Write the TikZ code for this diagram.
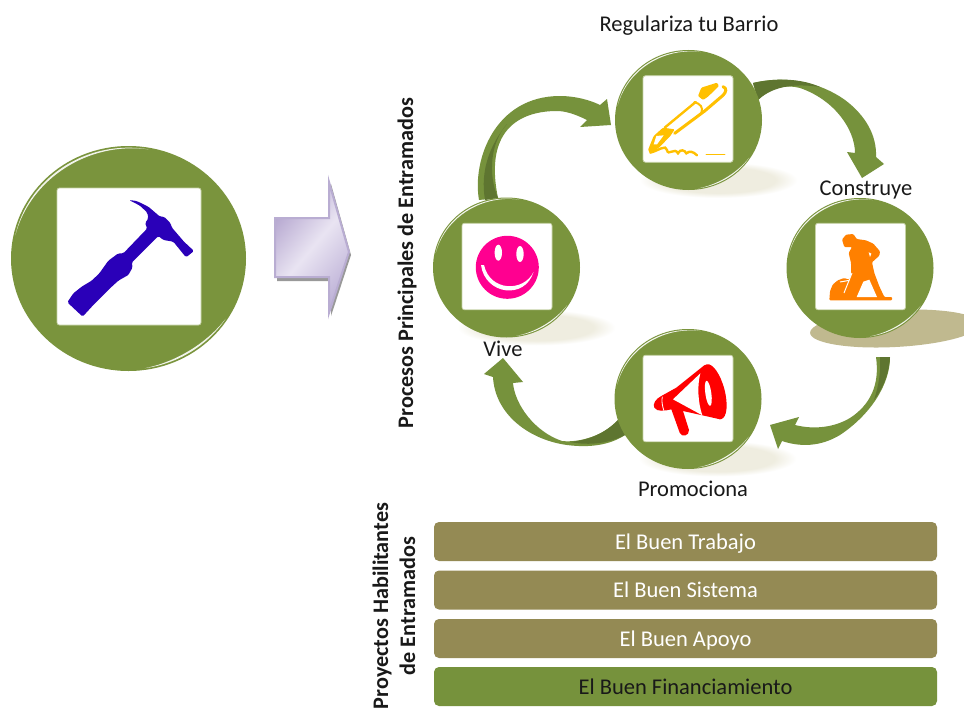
\documentclass[tikz,border=0pt]{standalone}
\usepackage{fontspec}
\setmainfont{Carlito}
\usetikzlibrary{shapes.geometric}
\definecolor{disccol}{HTML}{7A943D}
\definecolor{arrowcol}{HTML}{76923C}
\definecolor{twistcol}{HTML}{5E7530}
\definecolor{barcol}{HTML}{948A54}
\definecolor{cardline}{HTML}{C6D2A6}
\definecolor{halo}{HTML}{EFEDE0}
\definecolor{solidshadow}{HTML}{C0B98F}
\definecolor{hammercol}{HTML}{2A00B8}
\definecolor{pencol}{HTML}{FFC000}
\definecolor{workercol}{HTML}{FF8000}
\definecolor{smilecol}{HTML}{FF0090}
\definecolor{blockline}{HTML}{B9ADD2}
\definecolor{blockdark}{HTML}{B3A4CE}
\definecolor{blocklight}{HTML}{E9E4F2}
\definecolor{blockmid}{HTML}{BFB3D8}
\pgfdeclareradialshading{halofade}{\pgfpointorigin}{color(0bp)=(halo); color(18bp)=(halo); color(25bp)=(white); color(50bp)=(white)}
\newcommand{\glassarc}[6]{%
  \fill[white,opacity=.9] plot[domain=#5:#6,samples=40,smooth] ({#1+0.985*#3*cos(\x)},{#2-0.985*#4*sin(\x)})
    -- plot[domain=#6:#5,samples=40,smooth] ({#1+(0.985-0.016*sin(180*(\x-#5)/(#6-#5)))*#3*cos(\x)},{#2-(0.985-0.016*sin(180*(\x-#5)/(#6-#5)))*#4*sin(\x)}) -- cycle;}
\tikzset{
  disc/.style={ellipse,inner sep=0pt,fill=disccol,draw=none},
  smalldisc/.style={disc,minimum width=147pt,minimum height=140pt},
  card/.style={rectangle,rounded corners=2.5pt,fill=white,draw=cardline,line width=.8pt,inner sep=0pt},
  smallcard/.style={card,minimum width=90pt,minimum height=86.5pt},
  label/.style={inner sep=0pt,font=\fontsize{22.5}{26}\selectfont,text=black!90},
  bartext/.style={rectangle,rounded corners=5pt,inner sep=0pt,minimum width=503pt,minimum height=39pt,text height=20pt,text depth=5pt,font=\fontsize{22.5}{26}\selectfont},
  sidetext/.style={inner sep=0pt,rotate=90,font=\fontsize{22.2}{27}\selectfont\bfseries,align=center,text=black!90},
  iconscope/.style={x=.33333pt,y=-.33333pt},
  softshadow/.style={shading=halofade}
}
\begin{document}
\begin{tikzpicture}[x=1pt,y=-1pt]
\useasboundingbox (0,0) rectangle (964,709);
\fill[white] (0,0) rectangle (964,709);

% soft shadows
\shade[softshadow] (718.5,180) ellipse[x radius=79,y radius=18];
\shade[softshadow] (536.5,327.5) ellipse[x radius=79,y radius=18];
\shade[softshadow] (717.5,458.5) ellipse[x radius=79,y radius=18];
\fill[solidshadow,rotate around={3:(895,328.5)}] (895,328.5) ellipse[x radius=85,y radius=18.5];

% curved arrows
\fill[arrowcol] (479,200) .. controls (472,160) and (495,96) .. (560,96) .. controls (575,96) and (590,100) .. (600,105)
  -- (607,99) -- (611,125) -- (580,127) -- (587,120)
  .. controls (575,114) and (565,111) .. (557,111) .. controls (525,111) and (483,125) .. (498,198) -- cycle;
\fill[twistcol] (507,124) .. controls (490,143) and (488,175) .. (498,198) -- (485,200) .. controls (480,170) and (490,145) .. (507,124) -- cycle;

\fill[arrowcol] (753,83) .. controls (785,75) and (820,82) .. (845,100) .. controls (865,115) and (877,135) .. (876,157)
  -- (884,164) -- (862,178) -- (847,152) -- (855,153)
  .. controls (855,130) and (835,100) .. (800,88) .. controls (785,84) and (770,88) .. (758,100) -- cycle;
\fill[twistcol] (753,83) .. controls (775,78) and (800,78) .. (820,87) .. controls (800,84) and (775,84) .. (758,100) -- cycle;

\fill[arrowcol] (890,357) .. controls (890,385) and (870,415) .. (840,435) .. controls (820,447) and (800,447) .. (782,441)
  -- (778,449) -- (770,425) -- (799,417) -- (795,425)
  .. controls (815,430) and (835,427) .. (850,418) .. controls (870,405) and (880,385) .. (876,357) -- cycle;
\fill[twistcol] (890,357) .. controls (889,375) and (882,390) .. (874,400) .. controls (879,385) and (881,370) .. (880,357) -- cycle;

\fill[arrowcol] (625,435) .. controls (610,445) and (590,448) .. (567,445) .. controls (530,440) and (495,415) .. (493,377)
  -- (484,374) -- (503,358) -- (523,382) -- (513,383)
  .. controls (515,405) and (535,432) .. (562,441) .. controls (580,443) and (605,435) .. (618,420) -- cycle;
\fill[twistcol] (618,420) .. controls (605,433) and (590,440) .. (570,442) .. controls (590,446) and (610,443) .. (625,435) -- cycle;

% block arrow
\fill[black!40] (277,221) -- (331,221) -- (331,184) -- (351,255) -- (331,316) -- (331,281) -- (277,281) -- cycle;
\draw[line width=2pt,draw=blockline,left color=blockdark,right color=blockmid,middle color=blocklight,shading angle=50]
  (275,218) -- (329,218) -- (329,182) -- (349,252) -- (329,313) -- (329,277) -- (275,277) -- cycle;

% discs and cards
\node[disc,minimum width=235pt,minimum height=225pt] (main) at (128.5,258.5) {};
\node[card,minimum width=144pt,minimum height=137pt] (maincard) at (129,256.5) {};
\node[smalldisc] (reg) at (688.5,120) {};
\node[smallcard] (regcard) at (688,119) {};
\node[smalldisc] (con) at (860,268) {};
\node[smallcard] (concard) at (860.5,266.5) {};
\node[smalldisc] (viv) at (506.5,267.5) {};
\node[smallcard] (vivcard) at (507,266.5) {};
\node[smalldisc] (pro) at (688,399) {};
\node[smallcard] (procard) at (688,398.5) {};

\glassarc{128.5}{258.5}{117.5}{112.5}{80}{168}
\glassarc{128.5}{258.5}{117.5}{112.5}{-82}{-33}
\glassarc{688.5}{120}{73.5}{70}{80}{168}
\glassarc{688.5}{120}{73.5}{70}{-82}{-33}
\glassarc{860}{268}{73.5}{70}{80}{168}
\glassarc{860}{268}{73.5}{70}{-82}{-33}
\glassarc{506.5}{267.5}{73.5}{70}{80}{168}
\glassarc{506.5}{267.5}{73.5}{70}{-82}{-33}
\glassarc{688}{399}{73.5}{70}{80}{168}
\glassarc{688}{399}{73.5}{70}{-82}{-33}

% hammer
\begin{scope}[shift={(60,190)},iconscope]
\fill[hammercol,rounded corners=1.5pt] (207,30) -- (230,33) -- (265,50) -- (300,80) -- (312,80) -- (332,100) -- (335,112) -- (372,155) -- (402,183) -- (378,202) -- (340,155) -- (310,150) -- (295,138) -- (215,218) -- (218,232) -- (205,255) -- (175,272) -- (150,295) -- (125,320) -- (100,345) -- (68,380) -- (22,337) -- (40,310) -- (65,290) -- (95,272) -- (118,250) -- (145,212) -- (175,190) -- (190,190) -- (262,115) -- (255,100) -- (265,85) -- (262,68) -- (240,47) -- cycle;
\end{scope}

% pen
\begin{scope}[shift={(643,76)},iconscope]
\fill[pencol,rounded corners=1pt] (165,60) -- (175,35) -- (222,20) -- (228,30) -- (195,62) -- (180,72) -- cycle;
\draw[pencol,line width=3pt,line cap=round] (240,32) .. controls (252,36) and (250,48) .. (240,58) -- (185,105) -- (95,172);
\draw[pencol,line width=2.4pt,line cap=round] (158,78) -- (65,155);
\draw[pencol,line width=2pt] (152,78) .. controls (172,82) and (182,95) .. (175,110);
\fill[pencol,rounded corners=1pt] (60,155) -- (95,160) -- (82,180) -- (48,215) -- (22,232) -- (15,222) -- (32,180) -- cycle;
\fill[white] (40,180) -- (62,178) -- (42,205) -- (32,205) -- cycle;
\draw[pencol,line width=2.4pt,line cap=round] (22,230) .. controls (50,222) and (68,205) .. (72,222) .. controls (75,242) and (95,212) .. (105,232) .. controls (112,218) and (125,222) .. (130,232) .. controls (140,224) and (150,226) .. (162,238);
\draw[pencol,line width=1.6pt,line cap=round] (190,235) -- (245,235);
\end{scope}

% worker
\begin{scope}[shift={(816,223)},iconscope]
\fill[workercol,rounded corners=1pt] (85,72) -- (78,50) -- (90,35) -- (112,33) -- (122,48) -- (150,52) -- (172,62) -- (192,85) -- (190,98) -- (168,118) -- (175,150) -- (190,190) -- (205,222) -- (228,222) -- (228,232) -- (40,232) -- (42,205) -- (50,185) -- (65,172) -- (85,165) -- (98,170) -- (105,160) -- (105,120) -- (98,90) -- (108,72) -- cycle;
\fill[white] (142,176) -- (122,222) -- (183,222) -- (160,170) -- cycle;
\fill[white] (158,88) -- (166,92) -- (162,102) -- cycle;
\draw[white,line width=1pt] (108,150) -- (84,210);
\draw[white,line width=1pt] (72,177) -- (100,172);
\end{scope}

% megaphone
\begin{scope}[shift={(643,356)},iconscope]
\fill[red,rotate around={15:(213,107)}] (213,107) ellipse[x radius=32,y radius=85];
\fill[red] (185,27) -- (100,95) -- (55,120) .. controls (38,128) and (28,145) .. (34,155) .. controls (42,168) and (65,165) .. (85,160) -- (110,230) .. controls (115,245) and (140,240) .. (138,222) -- (120,165) -- (232,190) -- cycle;
\fill[white] (172,52) -- (90,130) -- (178,178) .. controls (165,140) and (162,90) .. (172,52) -- cycle;
\fill[white,rotate around={8:(196,112)}] (196,112) ellipse[x radius=9,y radius=38];
\draw[white,line width=.8pt] (58,122) .. controls (55,135) and (58,150) .. (63,165);
\end{scope}

% smiley
\fill[smilecol] (507.3,267.3) circle[radius=31.5];
\fill[white] (498.3,252.7) ellipse[x radius=3.7,y radius=8];
\fill[white] (520,254) ellipse[x radius=3.7,y radius=8];
\fill[white] (481,265) .. controls (485,295) and (525,300) .. (533.5,272) .. controls (524,292) and (490,292) .. (484,265) -- cycle;

% labels
\node[label] (lreg) at (689,25.5) {Regulariza tu Barrio};
\node[label] (lcon) at (866,190) {Construye};
\node[label] (lviv) at (503,349) {Vive};
\node[label] (lpro) at (693,489) {Promociona};
\node[sidetext] (side1) at (407,263) {Procesos Principales de Entramados};
\node[sidetext] (side2) at (394,606) {Proyectos Habilitantes\\de Entramados};

% bars
\node[bartext,fill=barcol,text=white] (b1) at (685.5,541.5) {El Buen Trabajo};
\node[bartext,fill=barcol,text=white] (b2) at (685.5,590) {El Buen Sistema};
\node[bartext,fill=barcol,text=white] (b3) at (685.5,638.5) {El Buen Apoyo};
\node[bartext,fill=arrowcol,text=black!90] (b4) at (685.5,686.5) {El Buen Financiamiento};
\end{tikzpicture}
\end{document}
